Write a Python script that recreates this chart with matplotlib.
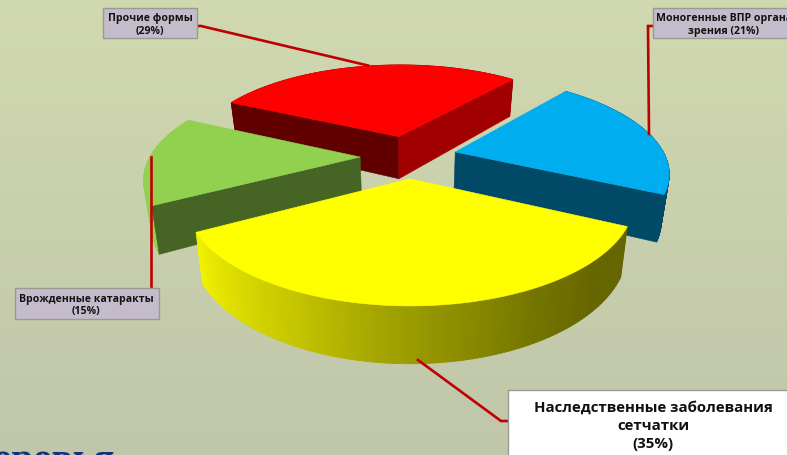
import numpy as np
import matplotlib
matplotlib.use("Agg")
import matplotlib.pyplot as plt
from matplotlib.colors import LinearSegmentedColormap
from matplotlib.patches import Rectangle, Polygon
from matplotlib.collections import PolyCollection

categories = ["Наследственные заболевания\nсетчатки", "Врожденные катаракты", "Прочие формы", "Моногенные ВПР органа\nзрения"]
values = [35, 15, 29, 21]
top_colors = ["#FFFF00", "#92D050", "#FF0000", "#00AEEF"]
face_first = [None, "#466424", "#600000", None]   # cut face at the slice's first angle
face_last = [None, None, "#A00000", "#004A68"]    # cut face at the slice's last angle
wall_colors = [["#F2F200", "#DCDC00", "#C4C400", "#A6A600", "#8C8C00", "#747400", "#666600", "#666600"],
               ["#92D050", "#92D050"], ["#A00000", "#A00000"], ["#004A68", "#004A68"]]
draw_order = [2, 1, 3, 0]

W, H = 787, 456
CX, CY, RX, RY, PERSP, DEPTH, TAPER, EXPLODE = 408.5, 157.5, 210, 92.5, 0.194, 44, 0.03, 0.23
START = 115.5


def project(u, v, z=0.0):
    w = 1 - PERSP * v
    return CX + RX * u / w * (1 - TAPER * z), CY + (RY * v + DEPTH * z) / w


fig = plt.figure(figsize=(W / 100, H / 100), dpi=100)
ax = fig.add_axes([0, 0, 1, 1])
ax.set_xlim(0, W)
ax.set_ylim(H, 0)
ax.axis("off")

bg = LinearSegmentedColormap.from_list("bg", ["#D1D9B0", "#C0C6AA"])
ax.imshow(np.linspace(0, 1, 256)[:, None], cmap=bg, extent=(0, W, H, 0), aspect="auto", zorder=0)

# navy heading cut by the lower edge of the slide
ax.text(-7, 472, "оровья", family="Liberation Serif", fontweight="bold", fontsize=28, color="#8C9298", zorder=1)
ax.text(-8, 471, "оровья", family="Liberation Serif", fontweight="bold", fontsize=28, color="#14307A", zorder=1)

fracs = np.array(values) / np.sum(values) * 360
starts = START + np.concatenate(([0], np.cumsum(fracs)[:-1]))

for order, i in enumerate(draw_order):
    z = 2 + order
    a0, a1 = starts[i], starts[i] + fracs[i]
    mid = np.radians((a0 + a1) / 2)
    eu, ev = EXPLODE * np.sin(mid), -EXPLODE * np.cos(mid)
    t = np.radians(np.linspace(a0, a1, 120))
    u, v = eu + np.sin(t), ev - np.cos(t)
    xt, yt = project(u, v, 0)
    xb, yb = project(u, v, 1)
    # outer wall
    cmap = LinearSegmentedColormap.from_list("w", wall_colors[i])
    segs, cols = [], []
    for k in range(len(t) - 1):
        segs.append([(xt[k], yt[k]), (xt[k + 1], yt[k + 1]), (xb[k + 1], yb[k + 1]), (xb[k], yb[k])])
        cols.append(cmap(1 - k / (len(t) - 2)))
    ax.add_collection(PolyCollection(segs, facecolors=cols, edgecolors=cols, linewidths=0.6, zorder=z))
    # cut faces
    ax0, ay0 = project(eu, ev, 0)
    bx0, by0 = project(eu, ev, 1)
    for col, end in ((face_first[i], 0), (face_last[i], -1)):
        if col:
            ax.add_patch(Polygon([(ax0, ay0), (bx0, by0), (xb[end], yb[end]), (xt[end], yt[end])], closed=True,
                                 fc=col, ec=col, lw=0.4, zorder=z))
    # top
    ax.add_patch(Polygon(np.column_stack((np.r_[ax0, xt], np.r_[ay0, yt])), closed=True,
                         fc=top_colors[i], ec=top_colors[i], lw=0.4, zorder=z + 0.1))

LINE = "#C00000"
leaders = [[(508, 422), (501, 422), (418, 361)],
           [(150.5, 158), (150.5, 289)],
           [(197, 27), (201, 27), (368, 66.5)],
           [(652, 27), (648, 27), (649, 135)]]
for pts in leaders:
    p = np.array(pts)
    ax.plot(p[:, 0], p[:, 1], color=LINE, lw=1.9, solid_joinstyle="miter", zorder=10)

boxes = [(507.5, 391.5, 300, 80), (14.5, 288.5, 144, 31), (102.5, 8.5, 94, 30), (652.5, 8.5, 150, 30)]
fills = ["#FFFFFF", "#C4BCCB", "#C4BCCB", "#C4BCCB"]
for b, f in zip(boxes, fills):
    ax.add_patch(Rectangle(b[:2], b[2], b[3], fc=f, ec="#9A9A90", lw=1, zorder=11))

FONT = "Open Sans"
label_pos = [(653, 426), (86, 305.5), (150, 25), (724, 25)]
for i, (x, y) in enumerate(label_pos):
    txt = f"{categories[i]} ({values[i]}%)" if i == 3 else f"{categories[i]}\n({values[i]}%)"
    big = i == 0
    ax.text(x, y, txt, ha="center", va="center", family=FONT, fontweight="bold",
            fontsize=10.8 if big else 7.6, color="#111111", linespacing=1.4 if big else 1.2, zorder=12,
            clip_on=False)

fig.savefig("out.png", dpi=100)
